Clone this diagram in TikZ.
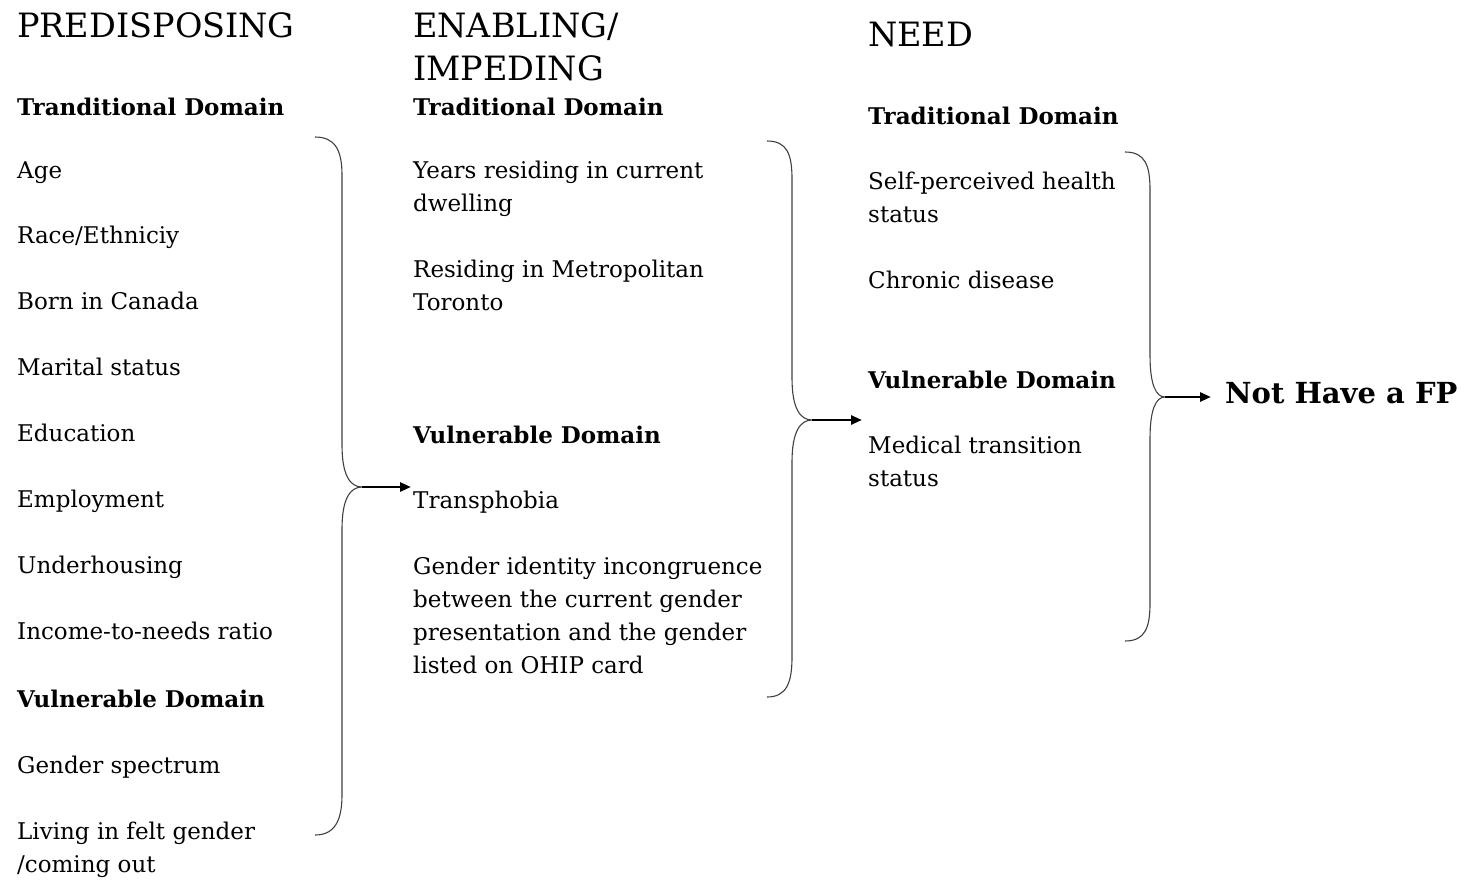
\documentclass[tikz,border=0pt]{standalone}
\usepackage{fontspec}
\setmainfont{DejaVu Serif}
\usetikzlibrary{arrows.meta}
\begin{document}
% note: for multi-line nodes the base anchor is the baseline of the last line
\begin{tikzpicture}[x=1pt,y=-1pt,
  txt/.style={anchor=base west, inner sep=0pt, align=left, font=\fontsize{23}{33}\selectfont},
  dom/.style={txt, font=\fontsize{23}{33}\selectfont\bfseries},
  head/.style={anchor=base west, inner sep=0pt, align=left, font=\fontsize{33.5}{43}\selectfont},
  brace/.style={draw=black!75, line width=1.1pt},
  arr/.style={line width=2.8pt, -{Triangle[length=11pt,width=9pt]}}]
\useasboundingbox (0,0) rectangle (1465,879);
% column 1
\node[head] (h1) at (17,37) {PREDISPOSING};
\node[dom] (d1t) at (17,115) {Tranditional Domain};
\node[txt] (age) at (17,178) {Age};
\node[txt] (race) at (17,243) {Race/Ethniciy};
\node[txt] (born) at (17,309) {Born in Canada};
\node[txt] (mar) at (17,375) {Marital status};
\node[txt] (edu) at (17,441) {Education};
\node[txt] (emp) at (17,507) {Employment};
\node[txt] (und) at (17,573) {Underhousing};
\node[txt] (inc) at (17,639) {Income-to-needs ratio};
\node[dom] (d1v) at (17,707) {Vulnerable Domain};
\node[txt] (gsp) at (17,773) {Gender spectrum};
\node[txt] (liv) at (17,872) {Living in felt gender\\/coming out};
% column 2
\node[head] (h2) at (413,80) {ENABLING/\\IMPEDING};
\node[dom] (d2t) at (413,115) {Traditional Domain};
\node[txt] (yrs) at (413,211) {Years residing in current\\dwelling};
\node[txt] (met) at (413,310) {Residing in Metropolitan\\Toronto};
\node[dom] (d2v) at (413,443) {Vulnerable Domain};
\node[txt] (trans) at (413,508) {Transphobia};
\node[txt] (gid) at (413,673) {Gender identity incongruence\\between the current gender\\presentation and the gender\\listed on OHIP card};
% column 3
\node[head] (h3) at (868,46) {NEED};
\node[dom] (d3t) at (868,124) {Traditional Domain};
\node[txt] (self) at (868,222) {Self-perceived health\\status};
\node[txt] (chr) at (868,288) {Chronic disease};
\node[dom] (d3v) at (868,388) {Vulnerable Domain};
\node[txt] (med) at (868,486) {Medical transition\\status};
% outcome
\node[anchor=west, inner sep=0pt, font=\fontsize{29}{36}\selectfont\bfseries] (fp) at (1225,393) {Not Have a FP};
% braces
\draw[brace] (315,137) .. controls (335,137) and (342,150) .. (342,175) -- (342,445)
  .. controls (342,475) and (350,487) .. (362,487)
  .. controls (350,487) and (342,499) .. (342,529) -- (342,795)
  .. controls (342,820) and (335,835) .. (315,835);
\draw[brace] (767,141) .. controls (787,141) and (792,154) .. (792,179) -- (792,378)
  .. controls (792,408) and (800,420) .. (812,420)
  .. controls (800,420) and (792,432) .. (792,462) -- (792,657)
  .. controls (792,682) and (787,697) .. (767,697);
\draw[brace] (1125,152) .. controls (1145,152) and (1150,165) .. (1150,190) -- (1150,355)
  .. controls (1150,385) and (1156,397) .. (1165,397)
  .. controls (1156,397) and (1150,409) .. (1150,439) -- (1150,603)
  .. controls (1150,628) and (1145,641) .. (1125,641);
% arrows
\coordinate (t1) at (362,487);
\coordinate (e1) at (411,487);
\coordinate (t2) at (812,420);
\coordinate (e2) at (862,420);
\coordinate (t3) at (1165,397);
\draw[arr] (t1) -- (e1);
\draw[arr] (t2) -- (e2);
\draw[arr, shorten >=14pt] (t3) -- (t3 -| fp.west);
\end{tikzpicture}
\end{document}
